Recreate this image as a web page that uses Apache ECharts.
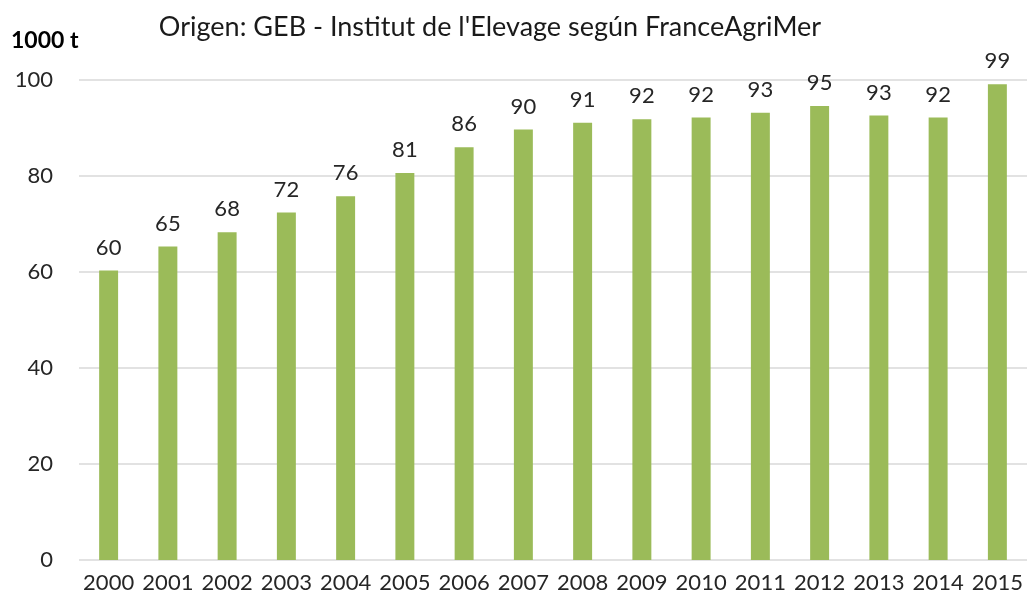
<!DOCTYPE html>
<html>
<head>
<meta charset="utf-8">
<script src="https://cdn.jsdelivr.net/npm/echarts@6/dist/echarts.min.js"></script>
<style>
  html, body { margin: 0; padding: 0; background: #fff; }
  #chart { width: 1027px; height: 605px; }
</style>
</head>
<body>
<div id="chart"></div>
<script>
// datos
const years = ['2000', '2001', '2002', '2003', '2004', '2005', '2006', '2007',
  '2008', '2009', '2010', '2011', '2012', '2013', '2014', '2015'];
const volumes = [60.3, 65.3, 68.3, 72.4, 75.8, 80.6, 86.0, 89.7,
  91.1, 91.8, 92.2, 93.2, 94.6, 92.6, 92.2, 99.1];
const yTicks = [0, 20, 40, 60, 80, 100];

const chart = echarts.init(document.getElementById('chart'));
const font = 'Lato, "Open Sans", sans-serif';

const option = {
  animation: false,
  title: {
    text: "Origen: GEB - Institut de l'Elevage según FranceAgriMer",
    left: 485,
    top: 9,
    textAlign: 'center',
    textStyle: { fontFamily: font, fontSize: 27, fontWeight: 'normal', color: '#1a1a1a' }
  },
  graphic: [{
    type: 'text',
    left: 11,
    top: 29,
    style: { text: '1000 t', font: 'bold 23px ' + font, fill: '#000' }
  }],
  grid: { left: 79, right: -1, top: 80, bottom: 45 },
  xAxis: {
    type: 'category',
    data: years,
    axisLine: { show: false },
    axisTick: { show: false },
    axisLabel: { interval: 0, fontFamily: font, fontSize: 22, color: '#262626', margin: 12 }
  },
  yAxis: {
    type: 'value',
    min: yTicks[0],
    max: yTicks[yTicks.length - 1],
    interval: 20,
    axisLine: { show: false },
    axisTick: { show: false },
    axisLabel: { fontFamily: font, fontSize: 22, color: '#262626', margin: 26 },
    splitLine: { lineStyle: { color: '#d9d9d9', width: 1.5 } }
  },
  series: [{
    type: 'bar',
    data: volumes,
    barWidth: '32%',
    itemStyle: { color: '#9bbb59' },
    label: {
      show: true,
      position: 'top',
      distance: 12,
      fontFamily: font,
      fontSize: 22,
      color: '#262626',
      formatter: p => Math.round(p.value)
    }
  }]
};

chart.setOption(option);
</script>
</body>
</html>
